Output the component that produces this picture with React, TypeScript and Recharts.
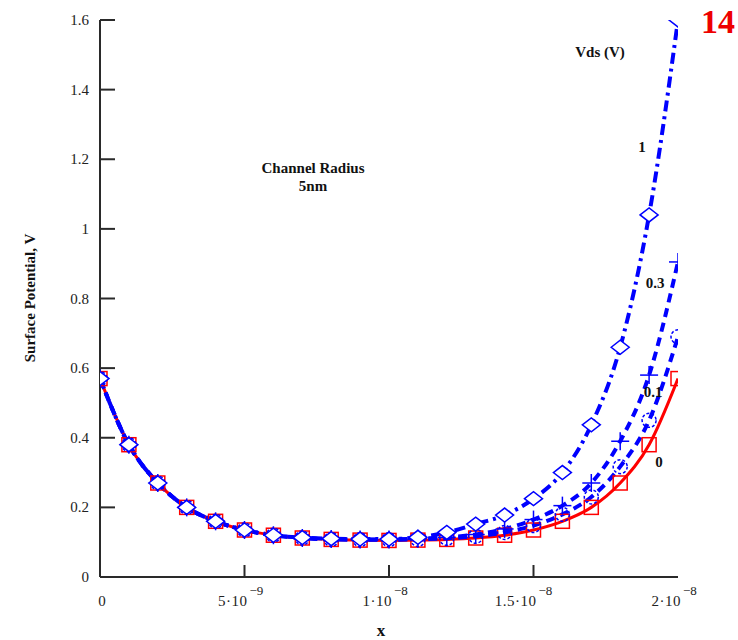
import { LineChart, Line, XAxis, YAxis } from 'recharts';

const xs = [0, 1e-9, 2e-9, 3e-9, 4e-9, 5e-9, 6e-9, 7e-9, 8e-9, 9e-9, 1e-8, 1.1e-8, 1.2e-8, 1.3e-8, 1.4e-8, 1.5e-8, 1.6e-8, 1.7e-8, 1.8e-8, 1.9e-8, 2e-8];

const vds0 = [0.57, 0.38, 0.27, 0.2, 0.16, 0.135, 0.12, 0.112, 0.108, 0.106, 0.105, 0.106, 0.108, 0.112, 0.12, 0.135, 0.16, 0.2, 0.27, 0.38, 0.57];
const vds01 = [0.57, 0.38, 0.27, 0.2, 0.16, 0.135, 0.12, 0.112, 0.108, 0.107, 0.107, 0.108, 0.111, 0.117, 0.128, 0.148, 0.18, 0.23, 0.317, 0.45, 0.69];
const vds03 = [0.57, 0.38, 0.27, 0.2, 0.16, 0.135, 0.12, 0.112, 0.109, 0.108, 0.108, 0.11, 0.114, 0.122, 0.138, 0.165, 0.205, 0.27, 0.39, 0.58, 0.905];
const vds1 = [0.57, 0.38, 0.27, 0.2, 0.16, 0.135, 0.12, 0.113, 0.11, 0.109, 0.109, 0.114, 0.128, 0.152, 0.178, 0.225, 0.3, 0.437, 0.66, 1.04, 1.6];

const xTicks = [0, 5e-9, 1e-8, 1.5e-8, 2e-8];
const xTickBase = ['0', '5·10', '1·10', '1.5·10', '2·10'];
const xTickExp = ['', '−9', '−8', '−8', '−8'];
const yTicks = [0, 0.2, 0.4, 0.6, 0.8, 1, 1.2, 1.4, 1.6];

const data = xs.map((x, i) => ({ x, v0: vds0[i], v01: vds01[i], v03: vds03[i], v1: vds1[i] }));

const BLUE = '#0000ff';
const RED = '#ff0000';
const AXIS = '#2a2a2a';
const SERIF = '"Liberation Serif", "DejaVu Serif", serif';

const LeftTick = (props: any) => {
  const { x, y, payload } = props;
  return (
    <g>
      <line x1={x} x2={x + 15} y1={y} y2={y} stroke={AXIS} strokeWidth={2} />
      <text x={x - 11} y={y} dy={5} textAnchor="end" fontSize={15} fontFamily={SERIF} fill="#222">
        {String(payload.value)}
      </text>
    </g>
  );
};

const RightTick = (props: any) => {
  const { x, y } = props;
  return <line x1={x - 15} x2={x} y1={y} y2={y} stroke={AXIS} strokeWidth={2} />;
};

const BottomTick = (props: any) => {
  const { x, y, index } = props;
  const first = index === 0;
  const last = index === xTicks.length - 1;
  return (
    <g>
      {!first && !last && <line x1={x} x2={x} y1={y} y2={y - 12} stroke={AXIS} strokeWidth={2} />}
      {first ? (
        <text x={x + 2} y={y + 29} textAnchor="middle" fontSize={15} fontFamily={SERIF} fill="#222">0</text>
      ) : (
        <g>
          <text x={x + 3} y={y + 29} textAnchor="end" fontSize={15} fontFamily={SERIF} fill="#222" letterSpacing={0.5}>
            {xTickBase[index]}
          </text>
          <text x={x + 5} y={y + 18} textAnchor="start" fontSize={13} fontFamily={SERIF} fill="#222">
            {xTickExp[index]}
          </text>
        </g>
      )}
    </g>
  );
};

const SquareDot = (props: any) => {
  const { cx, cy, index } = props;
  return <rect key={`s-${index}`} x={cx - 7} y={cy - 7} width={14} height={14} fill="none" stroke={RED} strokeWidth={1.5} />;
};

const PlusDot = (props: any) => {
  const { cx, cy, index } = props;
  return (
    <g key={`p-${index}`}>
      <line x1={cx - 9} x2={cx + 9} y1={cy} y2={cy} stroke={BLUE} strokeWidth={1.5} />
      <line x1={cx} x2={cx} y1={cy - 9} y2={cy + 9} stroke={BLUE} strokeWidth={1.5} />
    </g>
  );
};

const CircleDot = (props: any) => {
  const { cx, cy, index } = props;
  return <circle key={`c-${index}`} cx={cx} cy={cy} r={7} fill="none" stroke={BLUE} strokeWidth={1.5} strokeDasharray="3 2" />;
};

const DiamondDot = (props: any) => {
  const { cx, cy, index } = props;
  return (
    <polygon
      key={`d-${index}`}
      points={`${cx - 9},${cy} ${cx},${cy - 7} ${cx + 9},${cy} ${cx},${cy + 7}`}
      fill="#fff"
      stroke={BLUE}
      strokeWidth={1.5}
    />
  );
};

const txt = (x: number, y: number, s: string, size = 15, color = '#111') => (
  <div
    style={{
      position: 'absolute',
      left: x,
      top: y,
      transform: 'translate(-50%, -50%)',
      fontFamily: SERIF,
      fontWeight: 'bold',
      fontSize: size,
      color,
      whiteSpace: 'nowrap',
      lineHeight: 1,
    }}
  >
    {s}
  </div>
);

export default function App() {
  return (
    <div style={{ position: 'absolute', left: 0, top: 0, width: 738, height: 640, background: '#fff' }}>
      <LineChart width={738} height={640} data={data} margin={{ top: 20, right: 60, bottom: 33, left: 40 }}>
        <XAxis
          dataKey="x"
          type="number"
          domain={[0, 2e-8]}
          ticks={xTicks}
          interval={0}
          allowDataOverflow
          height={30}
          tickSize={0}
          tickMargin={0}
          tickLine={false}
          axisLine={{ stroke: AXIS, strokeWidth: 2 }}
          tick={<BottomTick />}
        />
        <XAxis
          xAxisId="top"
          orientation="top"
          dataKey="x"
          type="number"
          domain={[0, 2e-8]}
          height={0}
          tick={false}
          tickLine={false}
          axisLine={{ stroke: AXIS, strokeWidth: 2 }}
        />
        <YAxis
          type="number"
          domain={[0, 1.6]}
          ticks={yTicks}
          interval={0}
          allowDataOverflow
          width={60}
          tickSize={0}
          tickMargin={0}
          tickLine={false}
          axisLine={{ stroke: AXIS, strokeWidth: 2 }}
          tick={<LeftTick />}
        />
        <YAxis
          yAxisId="right"
          orientation="right"
          type="number"
          domain={[0, 1.6]}
          ticks={yTicks}
          interval={0}
          width={0}
          tickSize={0}
          tickMargin={0}
          tickLine={false}
          axisLine={{ stroke: AXIS, strokeWidth: 2 }}
          tick={<RightTick />}
        />
        <Line dataKey="v0" type="monotone" stroke={RED} strokeWidth={3} dot={SquareDot} activeDot={false} isAnimationActive={false} />
        <Line dataKey="v01" type="monotone" stroke={BLUE} strokeWidth={4} strokeDasharray="9 6" dot={CircleDot} activeDot={false} isAnimationActive={false} />
        <Line dataKey="v03" type="monotone" stroke={BLUE} strokeWidth={4} strokeDasharray="9 6" dot={PlusDot} activeDot={false} isAnimationActive={false} />
        <Line dataKey="v1" type="monotone" stroke={BLUE} strokeWidth={4} strokeDasharray="11 5 3 5" dot={DiamondDot} activeDot={false} isAnimationActive={false} />
      </LineChart>

      <div
        style={{
          position: 'absolute',
          left: 30,
          top: 298,
          transform: 'translate(-50%, -50%) rotate(-90deg)',
          fontFamily: SERIF,
          fontWeight: 'bold',
          fontSize: 15,
          color: '#111',
          whiteSpace: 'nowrap',
        }}
      >
        Surface Potential, V
      </div>
      {txt(381, 630, 'x', 17)}
      {txt(313, 168, 'Channel Radius', 15)}
      {txt(313, 186, '5nm', 15)}
      {txt(600, 52, 'Vds (V)', 15)}
      {txt(642, 147, '1', 15)}
      {txt(655, 283, '0.3', 15)}
      {txt(653, 392, '0.1', 15)}
      {txt(659, 462, '0', 15)}
      {txt(718, 22, '14', 34, '#ee0000')}
    </div>
  );
}
